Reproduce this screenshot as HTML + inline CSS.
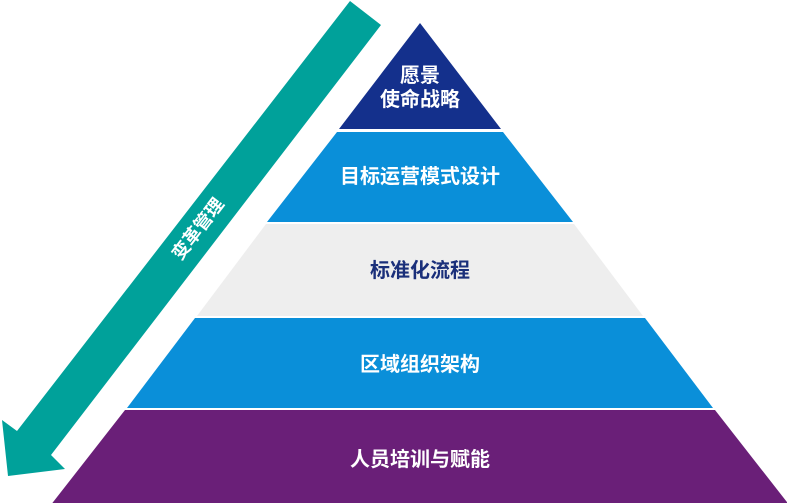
<!DOCTYPE html>
<html><head><meta charset="utf-8"><style>
html,body{margin:0;padding:0;background:#fff;}
svg{display:block;}
text{font-family:"Liberation Sans","Noto Sans CJK SC",sans-serif;font-weight:bold;}
</style></head><body>
<svg width="787" height="503" viewBox="0 0 787 503" xmlns="http://www.w3.org/2000/svg">
<rect width="787" height="503" fill="#fff"/>
<polygon points="420,23 501,129 339,129" fill="#14308c"/>
<polygon points="503,132 573,222 267,222 337,132" fill="#0a8fd9"/>
<polygon points="574,224 643,316 197,316 266,224" fill="#eeeeee"/>
<polygon points="645,318 713,408 127,408 195,318" fill="#0a8fd9"/>
<polygon points="715,410 790,506 50,506 125,410" fill="#6a1f78"/>
<polygon points="350,1 381,25 51,455 65,469 8,476 2,420 17,431" fill="#00a19a"/>
<text transform="translate(198,229) rotate(-52.3)" x="0" y="6" font-size="18" fill="#fff" text-anchor="middle">变革管理</text>
<g font-size="20" text-anchor="middle">
<text x="420" y="82" fill="#fff">愿景</text>
<text x="420" y="106" fill="#fff">使命战略</text>
<text x="420" y="183" fill="#fff">目标运营模式设计</text>
<text x="420" y="277" fill="#1a2f7a">标准化流程</text>
<text x="420" y="371" fill="#fff">区域组织架构</text>
<text x="420" y="466" fill="#fff">人员培训与赋能</text>
</g>
</svg>
</body></html>
